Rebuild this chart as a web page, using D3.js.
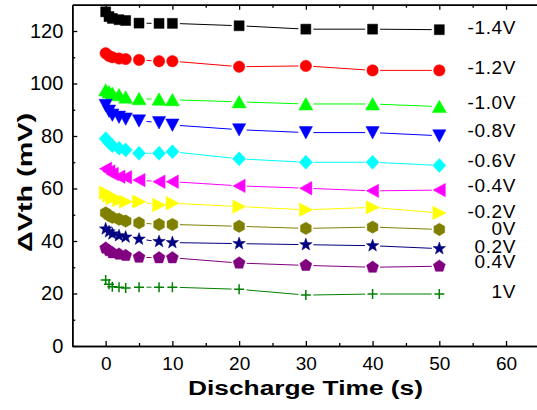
<!DOCTYPE html>
<html>
<head>
<meta charset="utf-8">
<script src="https://cdn.jsdelivr.net/npm/d3@7"></script>
<style>
  html, body { margin: 0; padding: 0; background: #fff; }
  svg { display: block; font-family: "Liberation Sans", Arial, sans-serif; }
</style>
</head>
<body>
<svg id="chart" width="537" height="410"></svg>
<script>
// ---- data ----
const times = [0, 0.5, 1, 2, 3, 5, 8, 10, 20, 30, 40, 50];
const seriesNames = ["-1.4V", "-1.2V", "-1.0V", "-0.8V", "-0.6V", "-0.4V", "-0.2V", "0V", "0.2V", "0.4V", "1V"];
const vNeg14 = [127.3, 125.5, 124.8, 124.3, 124.0, 123.0, 122.9, 122.9, 122.0, 120.7, 120.7, 120.5];
const vNeg12 = [111.5, 110.5, 110.0, 109.5, 109.3, 109.0, 108.5, 108.5, 106.4, 106.7, 105.0, 105.0];
const vNeg10 = [97.5, 96.8, 96.2, 95.7, 94.8, 94.2, 94.0, 93.8, 93.0, 92.2, 92.2, 91.2];
const vNeg08 = [91.7, 89.5, 88.0, 87.2, 86.5, 85.8, 85.1, 84.2, 82.4, 81.3, 81.3, 80.1];
const vNeg06 = [79.0, 77.5, 76.3, 75.3, 74.7, 73.4, 73.4, 74.0, 71.3, 70.0, 70.0, 68.8];
const vNeg04 = [67.5, 66.5, 65.5, 64.5, 64.3, 63.2, 62.6, 62.6, 61.0, 60.1, 59.1, 59.4];
const vNeg02 = [58.4, 57.3, 56.3, 55.6, 55.0, 55.0, 53.7, 54.4, 53.1, 51.9, 52.8, 50.7];
const v0 = [50.7, 49.7, 49.0, 48.3, 47.6, 46.9, 46.3, 46.3, 45.6, 44.8, 45.3, 44.4];
const vPos02 = [44.6, 43.5, 42.7, 42.0, 41.5, 40.7, 39.8, 39.4, 39.0, 38.6, 38.2, 37.1];
const vPos04 = [37.3, 36.3, 35.5, 35.0, 34.5, 33.8, 33.6, 33.6, 31.6, 30.7, 30.0, 30.4];
const vPos10 = [25.1, 23.5, 22.6, 22.4, 22.1, 22.4, 22.4, 22.4, 21.6, 19.4, 19.8, 19.8];
const labelLevels = [121.7, 106.3, 93.0, 82.2, 71.0, 61.4, 51.3, 45.0, 38.0, 32.3, 20.8]; // mV where each series label sits
const xTicks = [0, 10, 20, 30, 40, 50, 60];
const xMinor = [5, 15, 25, 35, 45, 55, 65];
const yTicks = [0, 20, 40, 60, 80, 100, 120];
const yMinor = [10, 30, 50, 70, 90, 110];

// ---- styles ----
const colors = ["#000000", "#ff0000", "#00ff00", "#0000ff", "#00ffff", "#ff00ff", "#ffff00", "#808000", "#000080", "#800080", "#008000"];
const shapes = ["square", "circle", "triUp", "triDown", "diamond", "triLeft", "triRight", "hexagon", "star", "pentagon", "plus"];
const allValues = [vNeg14, vNeg12, vNeg10, vNeg08, vNeg06, vNeg04, vNeg02, v0, vPos02, vPos04, vPos10];

const series = seriesNames.map((name, i) => ({
  name, color: colors[i], shape: shapes[i], label: labelLevels[i],
  points: times.map((t, j) => ({ t, v: allValues[i][j] }))
}));

// ---- layout ----
const svg = d3.select("#chart");
const x = d3.scaleLinear().domain([-5, 65]).range([72.3, 539.4]);
const y = d3.scaleLinear().domain([0, 130]).range([346, 4.75]);

function poly(pts) { return "M" + pts.map(p => p[0].toFixed(2) + "," + p[1].toFixed(2)).join("L") + "Z"; }
function regular(n, r, rot) {
  const pts = [];
  for (let k = 0; k < n; k++) { const a = rot + k * 2 * Math.PI / n; pts.push([r * Math.cos(a), r * Math.sin(a)]); }
  return poly(pts);
}
function shapePath(s) {
  switch (s) {
    case "square": return "M-5,-5h10v10h-10Z";
    case "circle": return d3.symbol(d3.symbolCircle, Math.PI * 5.7 * 5.7)();
    case "triUp": return poly([[0, -6.4], [7, 6], [-7, 6]]);
    case "triDown": return poly([[0, 6.4], [6.6, -6], [-6.6, -6]]);
    case "triLeft": return poly([[-6.2, 0], [6, -6.7], [6, 6.7]]);
    case "triRight": return poly([[6.8, 0], [-6.4, -6.7], [-6.4, 6.7]]);
    case "diamond": return poly([[0, -7], [6.6, 0], [0, 7], [-6.6, 0]]);
    case "hexagon": return regular(6, 6.2, -Math.PI / 2);
    case "pentagon": return regular(5, 6.3, -Math.PI / 2);
    case "star": {
      const pts = [];
      for (let k = 0; k < 10; k++) {
        const r = k % 2 === 0 ? 6.6 : 2.7;
        const a = -Math.PI / 2 + k * Math.PI / 5;
        pts.push([r * Math.cos(a), r * Math.sin(a)]);
      }
      return poly(pts);
    }
    case "plus": return "M-5,0H5M0,-5V5";
  }
}

// ---- series ----
const gap = 7.5;
series.forEach(s => {
  const g = svg.append("g");
  const segs = [];
  for (let j = 0; j < s.points.length - 1; j++) {
    const a = s.points[j], b = s.points[j + 1];
    const x1 = x(a.t), y1 = y(a.v), x2 = x(b.t), y2 = y(b.v);
    const d = Math.hypot(x2 - x1, y2 - y1);
    if (d > 2 * gap + 1) {
      const ux = (x2 - x1) / d, uy = (y2 - y1) / d;
      segs.push([x1 + ux * gap, y1 + uy * gap, x2 - ux * gap, y2 - uy * gap]);
    }
  }
  g.selectAll("line.seg").data(segs).enter().append("line")
    .attr("x1", d => d[0]).attr("y1", d => d[1]).attr("x2", d => d[2]).attr("y2", d => d[3])
    .attr("stroke", s.color).attr("stroke-width", 1);
  const p = shapePath(s.shape);
  g.selectAll("path.mk").data(s.points).enter().append("path")
    .attr("transform", d => `translate(${x(d.t)},${y(d.v)})`)
    .attr("d", p)
    .attr("fill", s.shape === "plus" ? "none" : s.color)
    .attr("stroke", s.color)
    .attr("stroke-width", s.shape === "plus" ? 1.5 : 0.5);
  svg.append("text")
    .attr("x", 516).attr("y", y(s.label) + 7)
    .attr("text-anchor", "end")
    .attr("font-size", 19).attr("letter-spacing", 0.6)
    .attr("fill", "#000")
    .text(s.name);
});

// ---- axes ----
function styleAxis(g) {
  g.selectAll("path.domain").attr("stroke", "#000").attr("stroke-width", 1.5);
  g.selectAll(".tick line").attr("stroke", "#000").attr("stroke-width", 1.3);
}
const bottomMajor = svg.append("g").attr("transform", "translate(0,346)")
  .call(d3.axisBottom(x).tickValues(xTicks).tickSize(-5).tickSizeOuter(0).tickPadding(11).tickFormat(d3.format("d")));
bottomMajor.selectAll("text").attr("font-size", 19).attr("fill", "#000").attr("font-family", "Liberation Sans, Arial, sans-serif");
styleAxis(bottomMajor);
const bottomMinor = svg.append("g").attr("transform", "translate(0,346)")
  .call(d3.axisBottom(x).tickValues(xMinor).tickSize(-3).tickSizeOuter(0).tickFormat(""));
styleAxis(bottomMinor);

const topMajor = svg.append("g").attr("transform", "translate(0,4.75)")
  .call(d3.axisTop(x).tickValues(xTicks).tickSize(-5).tickSizeOuter(0).tickFormat(""));
styleAxis(topMajor);
const topMinor = svg.append("g").attr("transform", "translate(0,4.75)")
  .call(d3.axisTop(x).tickValues(xMinor).tickSize(-3).tickSizeOuter(0).tickFormat(""));
styleAxis(topMinor);

const leftMajor = svg.append("g").attr("transform", "translate(72.3,0)")
  .call(d3.axisLeft(y).tickValues(yTicks).tickSize(-5).tickSizeOuter(0).tickPadding(9).tickFormat(d3.format("d")));
leftMajor.selectAll("text").attr("font-size", 20).attr("fill", "#000").attr("font-family", "Liberation Sans, Arial, sans-serif");
styleAxis(leftMajor);
const leftMinor = svg.append("g").attr("transform", "translate(72.3,0)")
  .call(d3.axisLeft(y).tickValues(yMinor).tickSize(-3).tickSizeOuter(0).tickFormat(""));
styleAxis(leftMinor);

// ---- titles ----
svg.append("text")
  .attr("x", 305.5).attr("y", 395)
  .attr("text-anchor", "middle")
  .attr("font-size", 20).attr("font-weight", "bold")
  .attr("textLength", 235).attr("lengthAdjust", "spacingAndGlyphs")
  .text("Discharge Time (s)");

svg.append("text")
  .attr("transform", "translate(32,182.5) rotate(-90)")
  .attr("text-anchor", "middle")
  .attr("font-size", 21).attr("font-weight", "bold")
  .attr("textLength", 139).attr("lengthAdjust", "spacingAndGlyphs")
  .text("ΔVth (mV)");
</script>
</body>
</html>
